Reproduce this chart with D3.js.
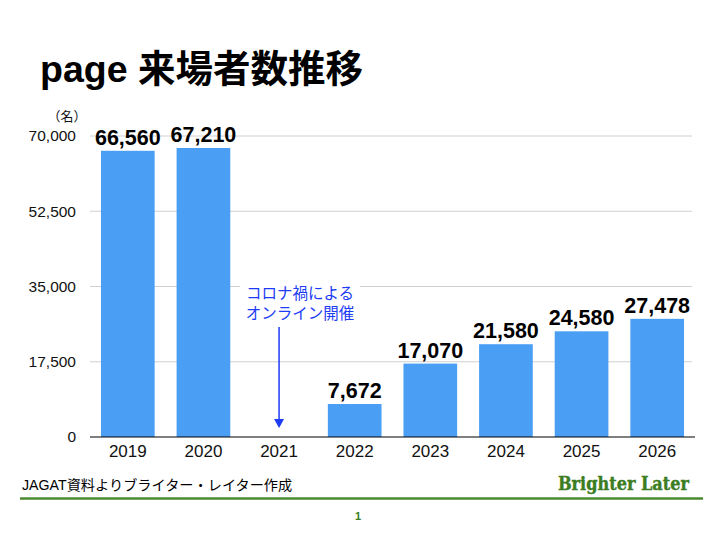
<!DOCTYPE html>
<html><head><meta charset="utf-8">
<script src="https://cdn.jsdelivr.net/npm/d3@7"></script>
<style>body{margin:0;background:#fff}svg{display:block}</style>
</head><body>
<script>
const years = ["2019","2020","2021","2022","2023","2024","2025","2026"];
const visitors = [66560, 67210, null, 7672, 17070, 21580, 24580, 27478];
const yTicks = [0, 17500, 35000, 52500, 70000];
const titleText = "page 来場者数推移";
const noteLines = ["コロナ禍による", "オンライン開催"];
const noteYear = "2021";

const W = 720, H = 540;
const svg = d3.select("body").append("svg").attr("width", W).attr("height", H);
const font = "'Liberation Sans', Arial, 'Noto Sans CJK JP', sans-serif";

const x = d3.scaleBand().domain(years).range([90, 695]).paddingInner(0.29).paddingOuter(0.145);
const y = d3.scaleLinear().domain([0, 70000]).range([437, 136]);

svg.append("text").attr("x", 40).attr("y", 82).attr("font-family", font)
  .attr("font-size", 37.5).attr("font-weight", "bold").attr("fill", "#000").text(titleText);

// grid
svg.append("g").selectAll("line").data(yTicks.filter(d => d > 0)).join("line")
  .attr("x1", 90).attr("x2", 692).attr("y1", d => y(d)).attr("y2", d => y(d))
  .attr("stroke", "#d0d0d0").attr("stroke-width", 1);

// y axis labels
const yAxis = d3.axisLeft(y).tickValues(yTicks).tickSize(0).tickPadding(0)
  .tickFormat(d3.format(","));
const ya = svg.append("g").attr("transform", "translate(76,0)").call(yAxis);
ya.select(".domain").remove();
ya.selectAll("text").attr("font-family", font).attr("font-size", 15.5).attr("fill", "#111");

svg.append("text").attr("x", 67).attr("y", 121).attr("text-anchor", "middle")
  .attr("font-family", font).attr("font-size", 13).attr("fill", "#111").text("（名）");

// bars
const data = years.map((yr, i) => ({yr, v: visitors[i]})).filter(d => d.v != null);
svg.append("g").selectAll("rect").data(data).join("rect")
  .attr("x", d => x(d.yr)).attr("width", x.bandwidth())
  .attr("y", d => y(d.v)).attr("height", d => y(0) - y(d.v))
  .attr("fill", "#4a9ff5");

svg.append("g").selectAll("text").data(data).join("text")
  .attr("x", d => x(d.yr) + x.bandwidth() / 2).attr("y", d => y(d.v) - 6)
  .attr("text-anchor", "middle").attr("font-family", font).attr("font-size", 21.5)
  .attr("font-weight", "bold").attr("fill", "#000").text(d => d3.format(",")(d.v));

// x axis
const xAxis = d3.axisBottom(x).tickSize(0).tickPadding(8);
const xa = svg.append("g").attr("transform", "translate(0,437)").call(xAxis);
xa.select(".domain").attr("stroke", "#000").attr("stroke-width", 1.2).attr("d", "M90,0H695");
xa.selectAll("text").attr("font-family", font).attr("font-size", 17).attr("fill", "#111");

// annotation
const ax = x(noteYear) + x.bandwidth() / 2;
svg.append("rect").attr("x", 240).attr("y", 279).attr("width", 120).attr("height", 44).attr("fill", "#fff");
svg.append("g").selectAll("text").data(noteLines).join("text")
  .attr("x", 300).attr("y", (d, i) => 299 + i * 20).attr("text-anchor", "middle")
  .attr("font-family", font).attr("font-size", 15.5).attr("fill", "#1c3cf5").text(d => d);
svg.append("line").attr("x1", ax).attr("x2", ax).attr("y1", 327).attr("y2", 420)
  .attr("stroke", "#1c3cf5").attr("stroke-width", 1.5);
svg.append("path").attr("d", `M${ax-5},419L${ax+5},419L${ax},428Z`).attr("fill", "#1c3cf5");

// footer
svg.append("text").attr("x", 22).attr("y", 490).attr("font-family", font)
  .attr("font-size", 14.2).attr("fill", "#000").text("JAGAT資料よりブライター・レイター作成");
svg.append("text").attr("x", 558).attr("y", 490).attr("font-family", "'DejaVu Serif', serif")
  .attr("font-size", 18).attr("font-weight", "bold").attr("fill", "#3a7d22")
  .attr("stroke", "#3a7d22").attr("stroke-width", 0.4)
  .attr("textLength", 131).attr("lengthAdjust", "spacingAndGlyphs").text("Brighter Later");
svg.append("line").attr("x1", 20).attr("x2", 703).attr("y1", 498.5).attr("y2", 498.5)
  .attr("stroke", "#4a8a2e").attr("stroke-width", 2.5);
svg.append("text").attr("x", 358).attr("y", 520).attr("text-anchor", "middle")
  .attr("font-family", font).attr("font-size", 11).attr("font-weight", "bold")
  .attr("fill", "#3a7d22").text("1");
</script>
</body></html>
